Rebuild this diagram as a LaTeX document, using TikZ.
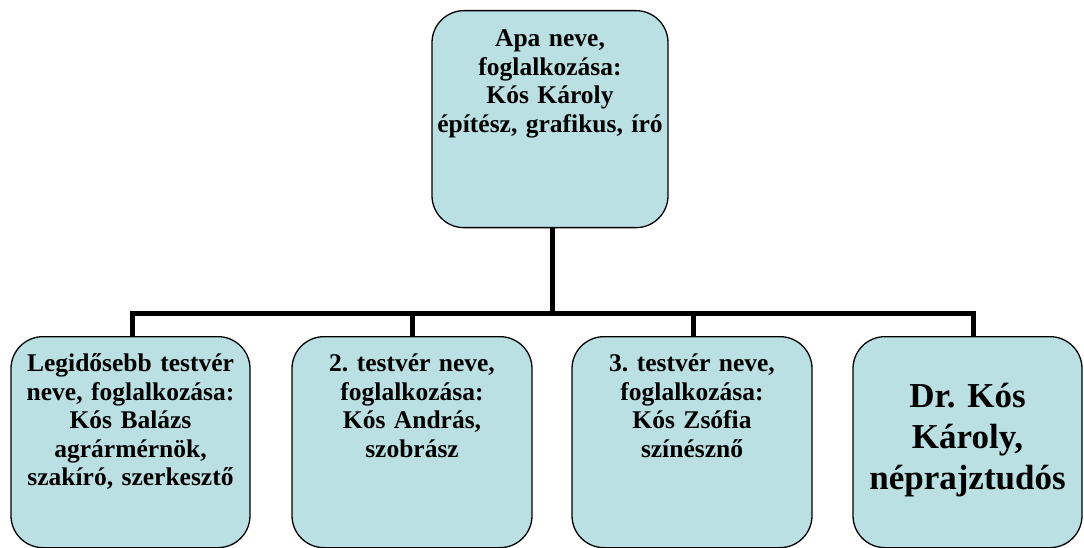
\documentclass[tikz,border=0pt]{standalone}
\usepackage{fontspec}
\setmainfont{Liberation Serif}
\definecolor{boxcyan}{RGB}{187,224,227}
\usepackage{tikz}
\usetikzlibrary{positioning}
\frenchspacing

\begin{document}
\begin{tikzpicture}[x=1pt, y=1pt,
  person/.style={draw=black, line width=1.3pt, rounded corners=32pt,
    fill=boxcyan, inner sep=0pt, anchor=north, align=center,
    text width=#1, minimum width=#1,
    font=\fontsize{25.5}{28.5}\selectfont\bfseries},
  link/.style={line width=5pt, black},
]
\useasboundingbox (0,0) rectangle (1084,-548);

% Parent
\node[person=236pt, text height=36pt, text depth=181pt] (apa) at (550,-10)
  {Apa neve,\\ foglalkozása:\\ Kós Károly\\ építész, grafikus, író};

% Children
\node[person=239pt, text height=35pt, text depth=176pt] (t1) at (130.5,-336)
  {Legidősebb testvér\\ neve, foglalkozása:\\ Kós Balázs\\ agrármérnök,\\ szakíró, szerkesztő};
\node[person=240pt, text height=35pt, text depth=176pt] (t2) at (412,-336)
  {2. testvér neve,\\ foglalkozása:\\ Kós András,\\ szobrász};
\node[person=240pt, text height=35pt, text depth=176pt] (t3) at (692,-336)
  {3. testvér neve,\\ foglalkozása:\\ Kós Zsófia\\ színésznő};
\node[person=229pt, text height=71pt, text depth=140pt,
  font=\fontsize{35}{41}\selectfont\bfseries] (t4) at (967.5,-336)
  {Dr. Kós\\ Károly,\\ néprajztudós};

% Tree lines
\coordinate (bar) at (552,-313);
\draw[link] (apa.south -| bar) -- (bar);
\draw[link] (bar) -| ([xshift=1.5pt]t1.north);
\draw[link] (bar) -| (t2.north);
\draw[link] (bar) -| ([xshift=1pt]t3.north);
\draw[link] (bar) -| ([xshift=5.5pt]t4.north);
\end{tikzpicture}
\end{document}
